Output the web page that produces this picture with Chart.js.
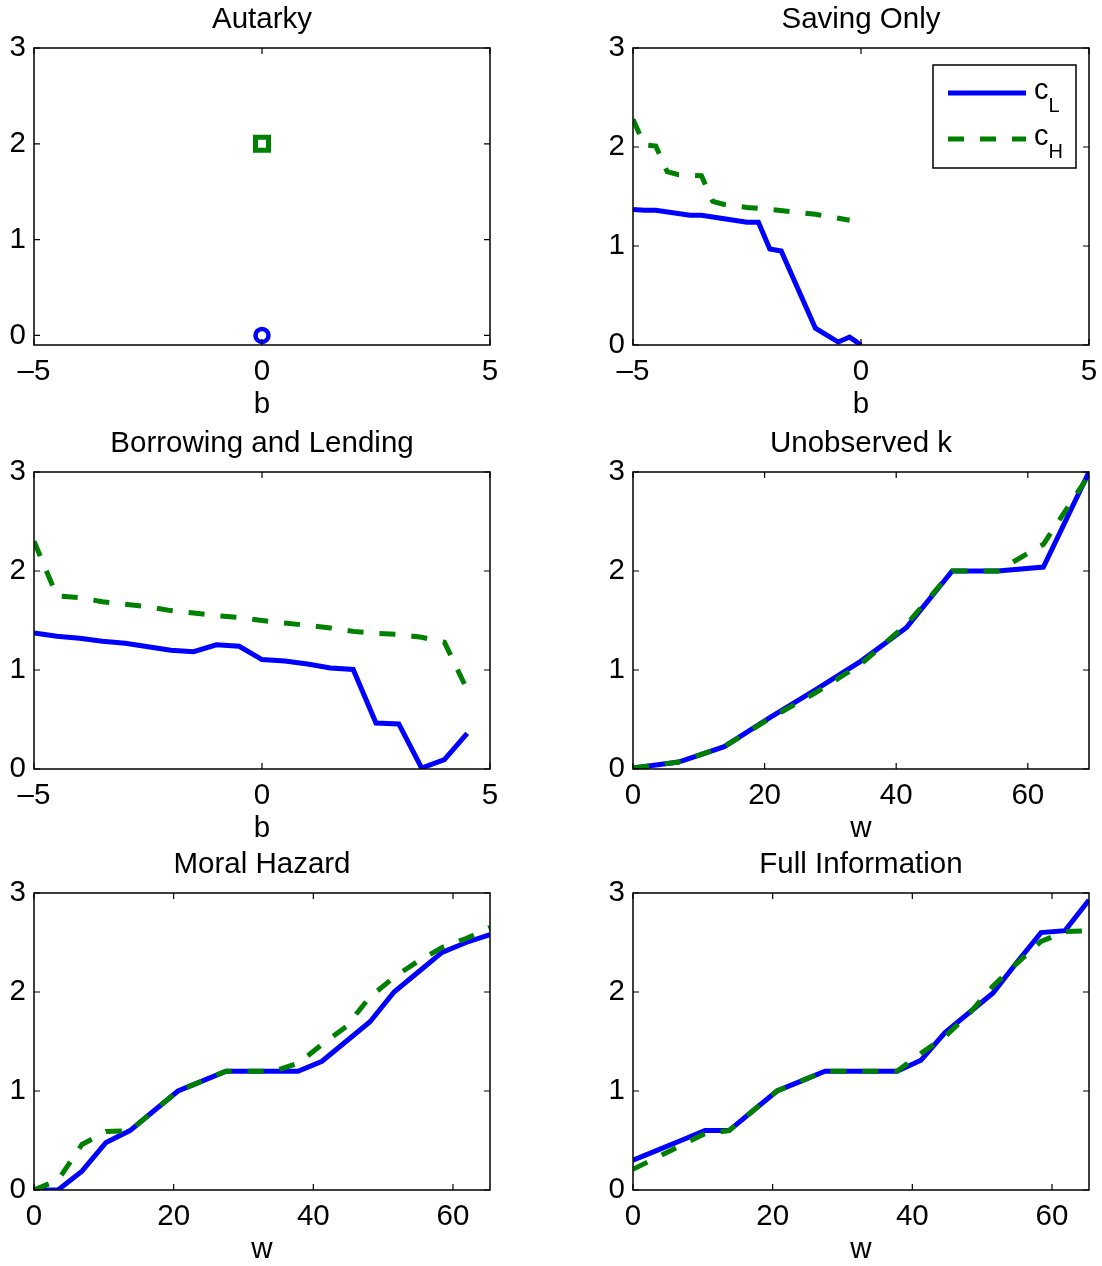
<!DOCTYPE html>
<html>
<head>
<meta charset="utf-8">
<script src="https://cdn.jsdelivr.net/npm/chart.js@4.4.1/dist/chart.umd.min.js"></script>
<style>
html,body{margin:0;padding:0;background:#fff;overflow:hidden;width:1102px;height:1266px;}
canvas{position:absolute;}
</style>
</head>
<body>
<canvas id="p1" width="508" height="420" style="left:0px;top:1px"></canvas>
<canvas id="p2" width="508" height="420" style="left:599px;top:1px"></canvas>
<canvas id="p3" width="508" height="420" style="left:0px;top:425px"></canvas>
<canvas id="p4" width="508" height="420" style="left:599px;top:425px"></canvas>
<canvas id="p5" width="508" height="420" style="left:0px;top:846px"></canvas>
<canvas id="p6" width="508" height="420" style="left:599px;top:846px"></canvas>
<script>
// ---------------- data ----------------
const titles = ['Autarky', 'Saving Only', 'Borrowing and Lending', 'Unobserved k', 'Moral Hazard', 'Full Information'];
const xLabels = ['b', 'b', 'b', 'w', 'w', 'w'];
const legendLabels = [['c', 'L'], ['c', 'H']];

const bTicks = [-5, 0, 5];
const wTicks = [0, 20, 40, 60];
const yTicks = [0, 1, 2, 3];

// Autarky
const autB = [0];
const autCL = [0];
const autCH = [2];

// Saving Only
const savBL = [-5, -4.75, -4.5, -3.75, -3.5, -3, -2.5, -2.25, -2, -1.75, -1, -0.5, -0.25, 0];
const savCL = [1.37, 1.36, 1.36, 1.31, 1.31, 1.275, 1.24, 1.24, 0.97, 0.95, 0.17, 0.03, 0.08, 0.0];
const savBH = [-5, -4.75, -4.5, -4.25, -4, -3.5, -3.25, -3, -2.5, -2, -1, -0.25];
const savCH = [2.28, 2.02, 2.01, 1.75, 1.72, 1.71, 1.45, 1.42, 1.39, 1.37, 1.32, 1.26];

// Borrowing and Lending
const borB = [-5, -4.5, -4, -3.5, -3, -2.5, -2, -1.5, -1, -0.5, 0, 0.5, 1, 1.5, 2, 2.5, 3, 3.5, 4, 4.5];
const borCL = [1.375, 1.34, 1.32, 1.29, 1.27, 1.235, 1.2, 1.185, 1.255, 1.24, 1.105, 1.09, 1.06, 1.02, 1.005, 0.465, 0.455, 0.01, 0.095, 0.36];
const borCH = [2.30, 1.75, 1.73, 1.69, 1.665, 1.64, 1.60, 1.575, 1.55, 1.53, 1.50, 1.475, 1.45, 1.425, 1.39, 1.37, 1.36, 1.33, 1.28, 0.80];

// Unobserved k
const unoW = [0, 6.93, 13.86, 20.79, 27.72, 34.65, 41.58, 48.51, 55.44, 62.37, 69.3];
const unoCL = [0.01, 0.07, 0.225, 0.52, 0.80, 1.09, 1.43, 2.0, 2.0, 2.04, 3.0];
const unoCH = [0.01, 0.07, 0.225, 0.51, 0.77, 1.06, 1.46, 2.0, 2.0, 2.27, 2.97];

// Moral Hazard and Full Information share the same w grid
const grid65W = [0, 3.44, 6.87, 10.31, 13.75, 17.18, 20.62, 24.06, 27.49, 30.93, 34.37, 37.81, 41.24, 44.68, 48.12, 51.56, 54.99, 58.43, 61.87, 65.3];
const mhCL = [0, 0, 0.19, 0.48, 0.60, 0.80, 1.00, 1.10, 1.20, 1.20, 1.20, 1.20, 1.30, 1.50, 1.70, 2.00, 2.20, 2.40, 2.50, 2.58];
const mhCH = [0, 0.10, 0.46, 0.59, 0.60, 0.80, 1.00, 1.10, 1.20, 1.20, 1.20, 1.28, 1.47, 1.65, 1.95, 2.15, 2.31, 2.45, 2.54, 2.65];
const fiCL = [0.30, 0.40, 0.50, 0.60, 0.60, 0.80, 1.00, 1.10, 1.20, 1.20, 1.20, 1.20, 1.31, 1.59, 1.79, 1.99, 2.30, 2.60, 2.62, 2.93];
const fiCH = [0.21, 0.33, 0.45, 0.57, 0.60, 0.80, 1.00, 1.10, 1.20, 1.20, 1.20, 1.20, 1.38, 1.55, 1.78, 2.06, 2.29, 2.51, 2.61, 2.62];

// ---------------- styling ----------------
const FONT = '"Liberation Sans", Arial, Helvetica, sans-serif';
const BLUE = '#0000ff';
const GREEN = '#008000';
Chart.defaults.font.family = FONT;
Chart.defaults.font.size = 29;
Chart.defaults.color = '#000';

const zip = (xs, ys) => xs.map((x, i) => ({x: x, y: ys[i]}));
const fmt = v => (v < 0 ? '\u2013' + (-v) : String(v));

const boxPlugin = {
  id: 'axesBox',
  afterDatasetsDraw(chart) {
    const {ctx, chartArea: a} = chart;
    const x = chart.scales.x, y = chart.scales.y;
    ctx.save();
    ctx.strokeStyle = '#000';
    ctx.lineWidth = 1.5;
    ctx.setLineDash([]);
    ctx.strokeRect(a.left, a.top, a.right - a.left, a.bottom - a.top);
    const L = 6;
    ctx.beginPath();
    x.ticks.forEach(t => {
      const px = x.getPixelForValue(t.value);
      ctx.moveTo(px, a.bottom); ctx.lineTo(px, a.bottom - L);
      ctx.moveTo(px, a.top); ctx.lineTo(px, a.top + L);
    });
    y.ticks.forEach(t => {
      const py = y.getPixelForValue(t.value);
      ctx.moveTo(a.left, py); ctx.lineTo(a.left + L, py);
      ctx.moveTo(a.right, py); ctx.lineTo(a.right - L, py);
    });
    ctx.lineWidth = 1.2;
    ctx.stroke();
    ctx.restore();
  }
};

const legendPlugin = {
  id: 'boxLegend',
  afterDraw(chart, args, opts) {
    if (!opts || !opts.show) return;
    const {ctx, chartArea: a} = chart;
    const bw = 143, bh = 103;
    const bx = a.right - 13 - bw, by = a.top + 17;
    ctx.save();
    ctx.fillStyle = '#fff';
    ctx.fillRect(bx, by, bw, bh);
    ctx.strokeStyle = '#000';
    ctx.lineWidth = 1.5;
    ctx.strokeRect(bx, by, bw, bh);
    const styles = opts.items;
    styles.forEach((ds, i) => {
      const ly = by + 28 + i * 46;
      ctx.beginPath();
      ctx.setLineDash(ds.borderDash || []);
      ctx.strokeStyle = ds.borderColor;
      ctx.lineWidth = ds.borderWidth;
      ctx.moveTo(bx + 15, ly);
      ctx.lineTo(bx + 93, ly);
      ctx.stroke();
      ctx.setLineDash([]);
      const main = legendLabels[i][0], sub = legendLabels[i][1];
      ctx.fillStyle = '#000';
      ctx.textAlign = 'left';
      ctx.textBaseline = 'alphabetic';
      ctx.font = '29px ' + FONT;
      ctx.fillText(main, bx + 101, ly + 6);
      const w = ctx.measureText(main).width;
      ctx.font = '20px ' + FONT;
      ctx.fillText(sub, bx + 101 + w, ly + 19);
    });
    ctx.restore();
  }
};

function lineSet(points, color, dashed) {
  return {
    data: points,
    borderColor: color,
    borderWidth: 5,
    borderDash: dashed ? [16, 16] : [],
    pointRadius: 0,
    fill: false,
    tension: 0,
    order: dashed ? 0 : 1
  };
}

function makeChart(id, idx, xMin, xMax, xTicks, yMin, datasets, legendItems) {
  return new Chart(document.getElementById(id), {
    type: 'line',
    data: {datasets: datasets},
    plugins: [boxPlugin, legendPlugin],
    options: {
      responsive: false,
      animation: false,
      events: [],
      layout: {padding: {left: 0, right: 18, top: 0, bottom: 0}},
      plugins: {
        legend: {display: false},
        tooltip: {enabled: false},
        title: {
          display: true,
          fullSize: false,
          text: titles[idx],
          font: {size: 29.5, weight: 'normal', family: FONT},
          color: '#000',
          padding: {top: 1.5, bottom: 10.1}
        },
        boxLegend: {show: !!legendItems, items: legendItems || []}
      },
      scales: {
        x: {
          type: 'linear',
          min: xMin,
          max: xMax,
          afterBuildTicks: s => { s.ticks = xTicks.map(v => ({value: v})); },
          afterFit: s => { s.height = 76; },
          grid: {display: false, drawTicks: false},
          border: {display: false},
          ticks: {padding: 9, maxRotation: 0, autoSkip: false, callback: fmt, color: '#000', font: {size: 29.5}},
          title: {display: true, text: xLabels[idx], color: '#000', font: {size: 29.5}, padding: {top: 0, bottom: -2}}
        },
        y: {
          type: 'linear',
          min: yMin,
          max: 3,
          afterBuildTicks: s => { s.ticks = yTicks.map(v => ({value: v})); },
          afterFit: s => { s.width = 34; },
          grid: {display: false, drawTicks: false},
          border: {display: false},
          ticks: {padding: 8, callback: fmt, color: '#000', font: {size: 29.5}}
        }
      }
    }
  });
}

// Autarky
makeChart('p1', 0, -5, 5, bTicks, -0.1, [
  {
    data: zip(autB, autCL), showLine: false,
    pointStyle: 'circle', pointRadius: 6.5, pointBorderWidth: 4.5,
    pointBorderColor: BLUE, pointBackgroundColor: 'rgba(255,255,255,0)', borderColor: BLUE
  },
  {
    data: zip(autB, autCH), showLine: false,
    pointStyle: 'rect', pointRadius: 9.2, pointBorderWidth: 5,
    pointBorderColor: GREEN, pointBackgroundColor: 'rgba(255,255,255,0)', borderColor: GREEN
  }
]);

// Saving Only (with legend)
const savSets = [lineSet(zip(savBL, savCL), BLUE, false), lineSet(zip(savBH, savCH), GREEN, true)];
makeChart('p2', 1, -5, 5, bTicks, 0, savSets, savSets);

// Borrowing and Lending
makeChart('p3', 2, -5, 5, bTicks, 0, [lineSet(zip(borB, borCL), BLUE, false), lineSet(zip(borB, borCH), GREEN, true)]);

// Unobserved k
makeChart('p4', 3, 0, 69.3, wTicks, 0, [lineSet(zip(unoW, unoCL), BLUE, false), lineSet(zip(unoW, unoCH), GREEN, true)]);

// Moral Hazard
makeChart('p5', 4, 0, 65.3, wTicks, 0, [lineSet(zip(grid65W, mhCL), BLUE, false), lineSet(zip(grid65W, mhCH), GREEN, true)]);

// Full Information
makeChart('p6', 5, 0, 65.3, wTicks, 0, [lineSet(zip(grid65W, fiCL), BLUE, false), lineSet(zip(grid65W, fiCH), GREEN, true)]);
</script>
</body>
</html>
